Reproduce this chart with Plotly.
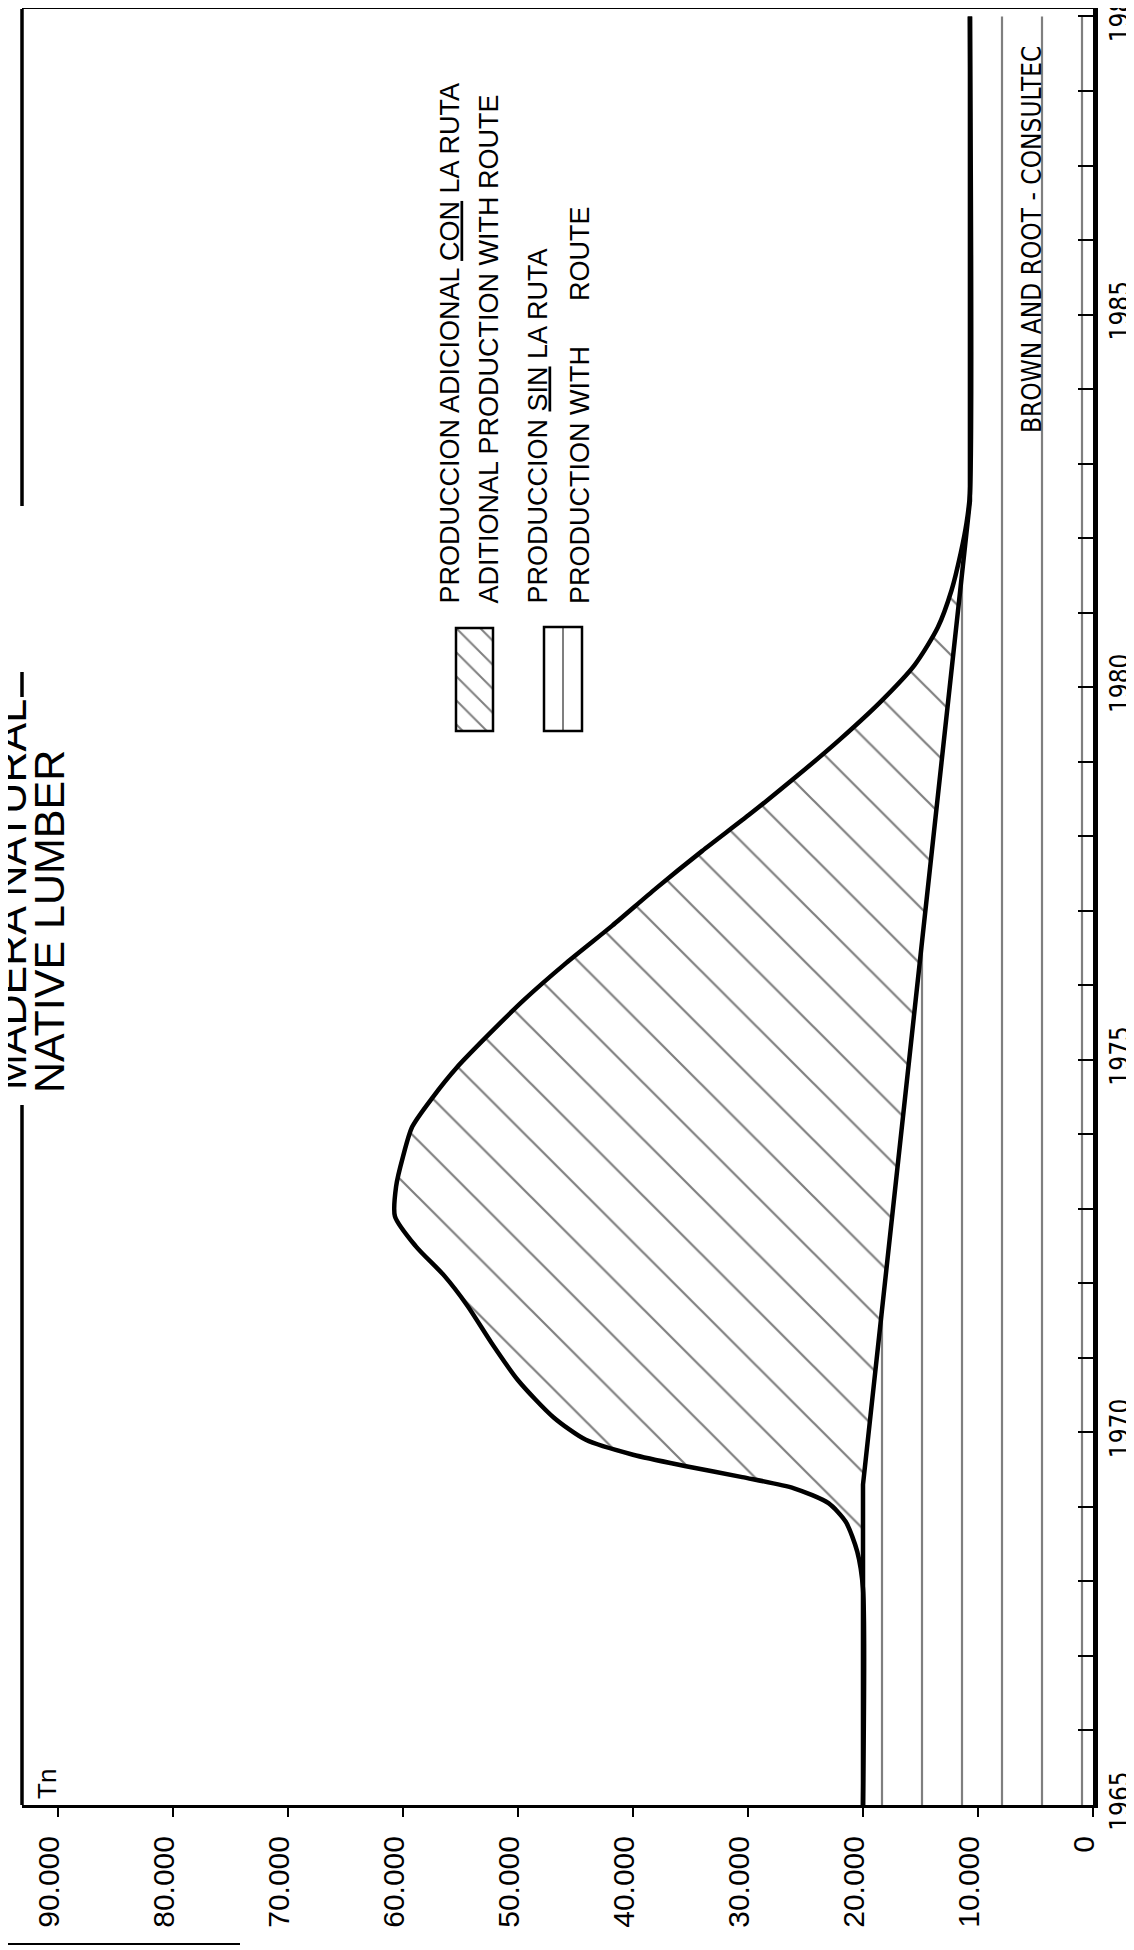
import plotly.graph_objects as go

# ---------------- data ----------------
years_without = [1965, 1969.3, 1982.5, 1989]
prod_without = [20000, 20000, 10700, 10700]

years_with = [1965, 1967.9, 1968.4, 1968.8, 1969.05, 1969.25, 1969.4, 1969.55, 1969.7,
              1969.9, 1970.2, 1970.7, 1971.2, 1971.7, 1972.1, 1972.5, 1972.9, 1973.3,
              1973.7, 1974.1, 1974.5, 1974.9, 1975.3, 1975.8, 1976.3, 1976.8, 1977.3,
              1977.8, 1978.3, 1978.8, 1979.3, 1979.8, 1980.3, 1980.8, 1981.3, 1981.8,
              1982.2, 1982.6, 1989]
prod_with = [20000, 20000, 20500, 21500, 23000, 26000, 30500, 35500, 40000,
             44100, 46900, 50000, 52300, 54400, 56400, 58900, 60700, 60600,
             60000, 59200, 57400, 55300, 52800, 49500, 45800, 41800, 38000,
             34000, 29800, 25800, 22000, 18500, 15500, 13500, 12300, 11500,
             11000, 10700, 10700]

value_ticks = [0, 10000, 20000, 30000, 40000, 50000, 60000, 70000, 80000, 90000]
value_labels = ["0", "10.000", "20.000", "30.000", "40.000", "50.000",
                "60.000", "70.000", "80.000", "90.000"]
year_ticks = list(range(1965, 1990))
year_labels = ["1965", "", "", "", "", "1970", "", "", "", "", "1975", "", "", "", "",
               "1980", "", "", "", "", "1985", "", "", "", "1989"]

legend_lines = ["PRODUCCION ADICIONAL <span style='text-decoration:underline'>CON</span> LA RUTA",
                "ADITIONAL PRODUCTION WITH ROUTE",
                "PRODUCCION <span style='text-decoration:underline'>SIN</span> LA RUTA",
                "PRODUCTION WITH \u00a0\u00a0\u00a0\u00a0 ROUTE"]

# ---------------- layout geometry (page pixels) ----------------
FW, FH = 1134, 1950
OFF = 8                      # default body margin of the html page
PL, PR, PT, PB = 22, 1093, 9, 1805
W, H = PR - PL, PB - PT


def px(x):
    return (x - PL) / W


def py(y):
    return 1 - (y - PT) / H


SANS = "Liberation Sans, Arial, sans-serif"
NARROW = "Liberation Sans Narrow, Arial Narrow, DejaVu Sans Condensed, sans-serif"

fig = go.Figure()

# production without route (vertical-line pattern)
fig.add_trace(go.Scatter(
    x=prod_without, y=years_without, mode="lines",
    line=dict(color="black", width=4.5),
    fill="tozerox", fillcolor="white",
    fillpattern=dict(shape="|", size=40, solidity=0.055, fgcolor="black",
                     bgcolor="white"),
    showlegend=False, hoverinfo="skip"))

# additional production with route (diagonal hatch)
fig.add_trace(go.Scatter(
    x=prod_with, y=years_with, mode="lines",
    line=dict(color="black", width=4.5, shape="spline", smoothing=0.7),
    fill="tonextx", fillcolor="white",
    fillpattern=dict(shape="\\", size=40, solidity=0.055, fgcolor="black",
                     bgcolor="white"),
    showlegend=False, hoverinfo="skip"))

# legend swatches on their own small axes
sw1 = (456, 493, 628, 731)
sw2 = (544, 582, 627, 731)
for i, (sw, shp, sz) in enumerate([(sw1, "\\", 17), (sw2, "|", sw2[1] - sw2[0])], start=2):
    fig.add_trace(go.Scatter(
        x=[0, 1, 1, 0, 0], y=[0, 0, 1, 1, 0], mode="lines",
        line=dict(width=0), fill="toself", fillcolor="white",
        fillpattern=dict(shape=shp, size=sz, solidity=2.0 / sz, fgcolor="black",
                         bgcolor="white"),
        xaxis=f"x{i}", yaxis=f"y{i}", showlegend=False, hoverinfo="skip"))
    fig.update_layout(**{
        f"xaxis{i}": dict(domain=[px(sw[0]), px(sw[1])], range=[0, 1], visible=False,
                          anchor=f"y{i}", fixedrange=True, automargin=False),
        f"yaxis{i}": dict(domain=[py(sw[3]), py(sw[2])], range=[0, 1], visible=False,
                          anchor=f"x{i}", fixedrange=True, automargin=False),
    })

shapes = []
for sw in (sw1, sw2):
    shapes.append(dict(type="rect", xref="paper", yref="paper",
                       x0=px(sw[0]), x1=px(sw[1]), y0=py(sw[3]), y1=py(sw[2]),
                       line=dict(color="black", width=2.5)))
# left frame line with a gap for the title
for y0, y1 in [(PT, 506), (672, 697), (1105, PB)]:
    shapes.append(dict(type="line", xref="paper", yref="paper", x0=0, x1=0,
                       y0=py(y0), y1=py(y1), line=dict(color="black", width=3.5)))
# scan edge at the bottom left
shapes.append(dict(type="line", xref="paper", yref="paper", x0=px(OFF), x1=px(240),
                   y0=py(1944), y1=py(1944), line=dict(color="black", width=2)))

annotations = []
legend_x = [449, 488, 537, 580]
for lx, txt in zip(legend_x, legend_lines):
    annotations.append(dict(text=txt, x=px(lx), y=py(606), xref="paper", yref="paper",
                            xanchor="center", yanchor="bottom", textangle=-90,
                            showarrow=False, font=dict(family=SANS, size=27, color="black")))
annotations += [
    dict(text="MADERA NATURAL", x=px(11), y=py(895), xref="paper", yref="paper",
         xanchor="center", yanchor="middle", textangle=-90, showarrow=False,
         font=dict(family=SANS, size=43, color="black")),
    dict(text="NATIVE LUMBER", x=px(49), y=py(922), xref="paper", yref="paper",
         xanchor="center", yanchor="middle", textangle=-90, showarrow=False,
         font=dict(family=SANS, size=43, color="black")),
    dict(text="Tn", x=px(47), y=py(1784), xref="paper", yref="paper",
         xanchor="center", yanchor="middle", textangle=-90, showarrow=False,
         font=dict(family=SANS, size=26, color="black")),
    dict(text="BROWN AND ROOT - CONSULTEC", x=px(1032), y=py(240), xref="paper",
         yref="paper", xanchor="center", yanchor="middle", textangle=-90,
         showarrow=False, font=dict(family=NARROW, size=26, color="black")),
]

fig.update_layout(
    width=FW, height=FH,
    margin=dict(l=PL - OFF, r=FW - (PR - OFF), t=PT - OFF, b=FH - (PB - OFF),
                autoexpand=False),
    paper_bgcolor="white", plot_bgcolor="white",
    showlegend=False,
    xaxis=dict(range=[90000 + (58 - PL) / (PR - 58) * 90000, 0],
               tickvals=value_ticks, ticktext=value_labels, tickangle=-90,
               ticks="outside", ticklen=9, tickwidth=2, tickcolor="black",
               showline=True, linewidth=3, linecolor="black", mirror=True,
               showgrid=False, zeroline=False, ticklabelshift=9,
               ticklabelstandoff=7, ticklabeloverflow="allow", automargin=False,
               tickfont=dict(family=SANS, size=30, color="black")),
    yaxis=dict(range=[1965, 1989.1], side="right", tickvals=year_ticks,
               ticktext=year_labels, tickangle=-90, ticks="inside", ticklen=15,
               tickwidth=2, tickcolor="black", showline=True, linewidth=5,
               linecolor="black", showgrid=False, zeroline=False,
               ticklabeloverflow="allow", automargin=False,
               tickfont=dict(family=NARROW, size=26, color="black")),
    shapes=shapes, annotations=annotations,
)

fig.write_html("out.html")
